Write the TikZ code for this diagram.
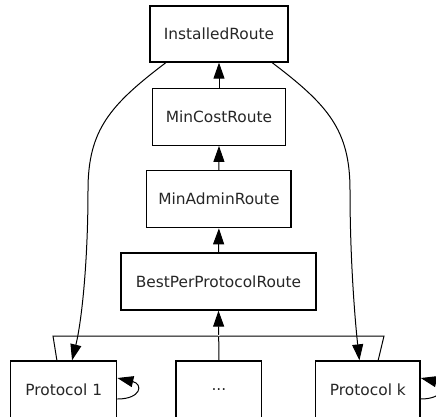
\documentclass[tikz,border=0pt]{standalone}
\usepackage{fontspec}
\setmainfont{DejaVu Sans}
\usetikzlibrary{arrows.meta,calc}
\tikzset{
  box/.style={draw, line width=1.3pt, rectangle, inner sep=0pt, font=\fontsize{15.4}{18}\selectfont, text=black!85},
  conn/.style={line width=1pt, -{Triangle[length=16pt,width=11pt]}},
  frame/.style={line width=1pt},
}
\begin{document}
\begin{tikzpicture}[x=1pt,y=-1pt]
\useasboundingbox (0,0) rectangle (436,416);
\clip (0,0) rectangle (436,416);
\node[box, minimum width=138pt, minimum height=56pt] (IR) at (219,34) {InstalledRoute};
\node[box, minimum width=133.4pt, minimum height=56.6pt] (MC) at (219,117) {MinCostRoute};
\node[box, minimum width=144.3pt, minimum height=57pt] (MA) at (218.9,199.2) {MinAdminRoute};
\node[box, minimum width=195pt, minimum height=57pt] (BP) at (218.5,281.5) {BestPerProtocolRoute};
\node[box, minimum width=106pt, minimum height=57pt] (P1) at (63.7,389.5) {Protocol 1};
\node[box, minimum width=85.7pt, minimum height=57pt] (PD) at (218.9,389.5) {...};
\node[box, minimum width=104.3pt, minimum height=57pt] (PK) at (367.9,389.5) {Protocol k};
% frame
\draw[frame] (57,361) -- (53,336) -- (384,336) -- (378,361);
% vertical chain
\draw[conn] (MC.north) -- (IR.south);
\draw[conn] (MA.north) -- (MC.south);
\draw[conn] (BP.north) -- (MA.south);
\draw[conn] (PD.north) -- (BP.south);
\fill[white] (218.9,335.6) circle (0.9pt);
% curved connectors
\coordinate (ILs) at ($(IR.south west)+(16.5,0)$);
\coordinate (IRs) at ($(IR.south east)+(-16.5,0)$);
\coordinate (P1t) at ($(P1.north west)+(62,0)$);
\coordinate (PKt) at ($(PK.north west)+(44.3,0)$);
\draw[conn] (ILs) .. controls (110,105) and (88,130) .. (88,190)
  .. controls (88,260) and (82,320) .. (P1t);
\draw[conn] (IRs) .. controls (328,105) and (350,130) .. (350,190)
  .. controls (350,260) and (355,320) .. (PKt);
% self loops
\draw[conn] ($(P1.east)+(0,9.5)$) .. controls +(24,0) and +(26,6) .. ($(P1.east)+(0,-11.5)$);
\draw[conn] ($(PK.east)+(0,9.5)$) .. controls +(24,0) and +(26,6) .. ($(PK.east)+(0,-11.5)$);
\end{tikzpicture}
\end{document}
